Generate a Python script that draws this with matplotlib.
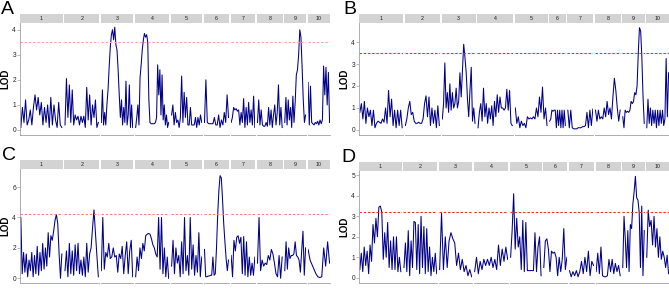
import matplotlib.pyplot as plt
import numpy as np

plt.rcParams['font.family'] = ['Liberation Sans', 'DejaVu Sans']

# chromosome labels for the facet strips
chroms = [str(i) for i in range(1, 11)]

# chromosome lengths (map units) per panel
chr_len_a = [128, 104, 98, 103, 94, 75, 74, 77, 65, 67]
chr_len_b = [132, 106, 102, 107, 99, 49, 78, 77, 67, 68]
chr_len_c = [128, 104, 98, 103, 94, 75, 74, 77, 65, 67]
chr_len_d = [128, 102, 100, 103, 95, 72, 75, 75, 67, 68]

# LOD profiles, one list per chromosome
lod_a = [
    [0.1, 0.9, 0.3, 1.2, 0.2, 0.4, 0.8, 0.2, 0.9, 1.4, 0.8, 1.3, 0.6, 1.1, 0.2, 0.9, 0.3, 1.0, 0.1, 1.3, 0.2, 1.0, 0.4, 0.1, 1.1, 0.2, 0.1],
    [0.2, 2.05, 0.5, 1.8, 0.3, 1.6, 0.2, 0.6, 0.4, 0.55, 0.2, 0.55, 0.3, 0.55, 0.1, 1.7, 0.4, 1.4, 0.2, 1.0, 0.5, 1.2, 0.1, 0.3],
    [0.3, 1.6, 0.2, 0.7, 0.2, 1.0, 1.6, 2.5, 3.3, 3.8, 4.0, 3.6, 4.1, 3.4, 3.2, 2.4, 1.4, 0.5, 1.2, 0.2, 0.9, 0.3, 1.95, 0.2, 0.6, 1.8, 0.1, 1.0, 0.1],
    [0.1, 0.5, 1.0, 0.2, 2.1, 2.6, 3.2, 3.6, 3.85, 3.7, 3.8, 3.5, 1.2, 0.3, 0.25, 0.25, 0.25, 0.25, 0.3, 0.5, 2.6, 1.4, 2.4, 0.6, 2.2, 0.4, 1.0, 0.2, 0.6, 0.1, 0.3],
    [0.6, 1.0, 0.2, 0.7, 0.3, 0.4, 0.1, 0.5, 2.15, 0.3, 1.5, 0.5, 1.3, 0.2, 0.2, 0.9, 0.2, 0.2, 0.2, 0.5, 0.1, 0.5, 0.2, 0.6, 0.3],
    [0.3, 2.0, 0.3, 0.25, 0.25, 0.25, 0.25, 0.5, 0.2, 0.2, 0.6, 0.1, 0.4, 0.2, 0.7, 0.3, 1.4, 0.5],
    [0.3, 0.5, 0.9, 0.8, 0.85, 0.75, 0.8, 0.2, 0.7, 0.3, 1.25, 0.1, 0.9, 0.2, 1.1, 0.3, 0.8, 0.2, 1.35, 0.1],
    [0.3, 1.2, 0.2, 0.8, 0.2, 0.15, 0.15, 0.3, 0.15, 0.9, 0.2, 0.8, 0.1, 0.6, 1.0, 0.2, 0.7, 1.8, 0.2, 0.9, 0.1],
    [0.3, 1.3, 0.2, 1.2, 0.4, 0.9, 0.1, 1.35, 0.3, 1.1, 2.2, 2.4, 3.0, 4.0, 3.7, 2.5, 1.2, 0.3, 0.6],
    [1.9, 0.2, 1.75, 0.3, 0.25, 0.2, 0.3, 0.25, 0.35, 0.2, 0.4, 0.25, 0.4, 2.55, 1.4, 2.5, 1.0, 2.3, 0.3],
]
lod_b = [
    [0.8, 1.2, 0.5, 1.3, 0.3, 1.0, 0.6, 0.9, 0.2, 0.9, 0.1, 0.3, 0.4, 0.35, 0.3, 0.5, 0.35, 1.0, 0.3, 1.8, 0.6, 1.4, 0.2, 0.9, 0.1, 0.9, 0.2, 0.9, 0.1],
    [0.2, 0.5, 1.0, 1.3, 0.7, 0.8, 0.4, 0.3, 0.3, 0.35, 0.3, 0.3, 0.5, 1.2, 1.55, 0.6, 1.5, 0.2, 1.0, 0.3, 0.9, 0.1, 1.1, 0.2],
    [0.5, 1.2, 3.05, 1.0, 1.7, 0.8, 2.1, 0.9, 1.7, 1.0, 1.2, 1.9, 1.0, 1.3, 2.6, 1.5, 2.7, 3.9, 3.3, 2.6, 1.4, 0.6, 1.8, 2.85, 0.4, 1.0, 0.3],
    [0.1, 0.8, 1.2, 0.4, 1.9, 0.6, 1.2, 0.3, 1.0, 0.5, 1.1, 0.2, 1.3, 0.6, 1.6, 0.8, 1.5, 1.0, 1.0, 0.9, 1.0, 1.85, 0.9, 1.8, 0.3, 0.2],
    [1.0, 0.3, 0.6, 0.1, 0.4, 0.2, 0.3, 0.1, 0.6, 0.5, 0.55, 0.5, 0.6, 0.5, 1.0, 0.6, 1.5, 0.8, 1.95, 0.5, 1.0, 0.2],
    [0.4, 0.5, 0.9, 0.85, 0.9, 0.9, 0.1, 0.9, 0.2, 0.9, 0.1, 0.9, 0.1, 0.9, 0.2],
    [0.9, 0.1, 0.9, 0.1, 0.05, 0.05, 0.05, 0.1, 0.1, 0.1, 0.15, 0.15, 0.2, 0.8, 0.1, 0.9, 0.2, 0.95],
    [0.9, 0.4, 0.9, 0.5, 0.6, 0.5, 1.0, 0.6, 1.3, 0.7, 1.0, 0.5, 1.5, 2.35, 1.8, 1.0, 0.4, 0.9],
    [0.6, 0.1, 0.9, 0.8, 0.85, 0.8, 0.9, 1.3, 1.2, 1.3, 1.7, 1.6, 2.0, 3.5, 4.65, 4.5, 3.3, 1.5, 0.3],
    [0.1, 1.4, 0.3, 1.0, 0.2, 0.9, 0.3, 0.9, 0.1, 0.9, 0.2, 0.9, 0.3, 0.9, 0.2, 0.5, 3.25, 0.6, 2.6],
]
lod_c = [
    [4.0, 0.3, 1.7, 0.4, 1.6, 0.1, 1.2, 0.5, 1.7, 0.1, 1.5, 0.3, 2.1, 0.2, 1.7, 0.5, 2.3, 0.6, 2.0, 0.8, 3.0, 1.4, 2.8, 2.5, 3.1, 3.8, 4.2, 3.6, 1.6, 0.0, 1.6],
    [0.5, 1.8, 0.1, 2.3, 0.3, 1.8, 0.2, 2.2, 0.5, 2.3, 0.3, 1.2, 0.2, 1.4, 0.1, 2.3, 0.4, 1.6, 2.0, 3.3, 4.5, 3.0, 1.5, 0.1],
    [0.5, 4.0, 0.6, 1.7, 1.4, 2.3, 1.3, 1.4, 2.0, 1.4, 1.5, 0.4, 1.6, 1.3, 2.1, 0.3, 1.5, 2.4, 0.3, 1.8, 2.5, 0.1],
    [0.1, 1.4, 0.5, 2.0, 1.3, 2.3, 1.8, 2.8, 2.9, 2.95, 2.9, 2.6, 2.2, 2.0, 1.6, 1.4, 4.0, 0.6, 4.0, 0.3, 2.0, 0.1, 1.4, 0.0],
    [0.8, 2.5, 0.3, 2.0, 1.0, 1.5, 0.1, 2.4, 0.3, 4.0, 0.5, 1.5, 0.2, 4.0, 0.6, 2.2, 0.2, 1.5, 0.4, 3.0, 0.1, 1.4],
    [1.9, 0.1, 0.1, 0.15, 0.15, 0.2, 0.2, 1.4, 0.2, 0.3, 2.0, 4.2, 5.8, 6.75, 6.6, 5.2, 3.6, 2.4, 1.3, 0.5, 1.2],
    [1.5, 0.1, 2.5, 1.8, 2.7, 2.8, 2.3, 2.7, 0.3, 2.75, 0.2, 2.4, 0.1, 1.4, 0.2, 1.0, 0.2, 1.4],
    [1.0, 4.0, 0.5, 1.2, 0.8, 1.0, 0.9, 1.5, 1.2, 1.9, 1.6, 1.0, 0.3, 0.1, 1.5, 0.0, 1.4],
    [0.5, 2.4, 0.6, 2.0, 1.3, 1.5, 1.5, 1.6, 2.4, 1.5, 1.4, 1.2, 0.4, 1.8, 3.1, 0.2, 2.0],
    [1.9, 1.2, 0.9, 0.6, 0.3, 0.1, 0.05, 0.1, 2.0, 0.8, 2.4, 1.0],
]
lod_d = [
    [0.4, 1.2, 0.3, 1.5, 0.6, 1.3, 0.2, 1.6, 0.8, 2.6, 1.7, 2.9, 2.0, 3.45, 3.5, 3.2, 0.9, 2.2, 1.0, 2.7, 0.5, 1.8, 0.4, 2.0, 0.4, 2.0, 0.3, 1.0, 0.3],
    [0.5, 1.7, 0.3, 2.3, 0.1, 1.8, 0.5, 2.75, 2.7, 0.4, 2.6, 0.2, 3.0, 0.5, 2.5, 0.2, 2.4, 0.3, 1.5, 0.1, 1.0, 0.3, 1.2, 0.2],
    [0.4, 3.15, 0.4, 2.0, 0.5, 1.8, 2.2, 1.9, 1.7, 0.6, 1.2, 0.4, 0.9, 0.3, 0.6, 0.1, 0.4, 0.05],
    [0.3, 1.0, 0.2, 0.8, 0.4, 0.9, 0.6, 0.9, 0.6, 1.0, 0.5, 0.9, 0.4, 1.6, 0.6, 1.4, 0.8, 1.5, 0.9],
    [1.0, 2.3, 4.1, 1.4, 2.9, 1.5, 2.0, 0.4, 2.8, 0.3, 2.7, 0.35, 0.35, 0.35, 0.35, 0.35, 2.2, 0.3, 1.5, 2.0, 0.1],
    [0.5, 1.8, 1.9, 1.4, 0.3, 1.3, 1.2, 1.25, 1.0, 0.1, 1.0, 0.3, 0.9, 2.4, 0.4, 1.0],
    [0.35, 0.05, 0.3, 0.1, 0.35, 0.05, 0.3, 0.8, 0.2, 1.0, 0.3, 1.3, 0.1, 0.8, 0.6],
    [0.3, 1.2, 0.2, 1.5, 0.1, 0.05, 0.05, 0.1, 0.9, 0.3, 0.9, 0.2, 0.7, 0.3, 0.6, 0.1],
    [0.5, 3.0, 1.9, 0.5, 2.3, 0.3, 2.6, 2.4, 3.6, 4.2, 4.95, 3.9, 3.8, 3.2, 0.5, 3.5, 0.1, 2.3],
    [1.0, 3.3, 2.5, 2.8, 1.6, 3.0, 1.5, 2.4, 1.0, 2.0, 0.9, 1.3, 1.0, 0.5, 1.1, 0.2],
]

thresholds = [3.5, 3.5, 4.2, 3.2]
thr_colors = ['#ffa3a3', '#ff2a2a', '#ff8080', '#ff2a2a']

W, H = 669, 292
fig = plt.figure(figsize=(W / 100, H / 100), dpi=100)


def add_px(x, y, w, h):
    return fig.add_axes([x / W, 1 - (y + h) / H, w / W, h / H])


# letter, left, strip top, plot top, plot bottom, lengths, lod, ylim, yticks
panels = [
    ('A', 20, 14, 22.7, 135, chr_len_a, lod_a, (-0.2, 4.28), [0, 1, 2, 3, 4]),
    ('B', 359, 14, 22.7, 135, chr_len_b, lod_b, (-0.23, 4.88), [0, 1, 2, 3, 4]),
    ('C', 20, 160, 169.3, 282.7, chr_len_c, lod_c, (-0.29, 7.17), [0, 2, 4, 6]),
    ('D', 359, 162, 171, 282.7, chr_len_d, lod_d, (-0.24, 5.21), [0, 1, 2, 3, 4, 5]),
]
letter_pos = [(1, 1), (343, 1), (2, 147.5), (341, 148.5)]

for k, (letter, left, s_top, top, bottom, lens, lod, ylim, yticks) in enumerate(panels):
    scale = 310 / (sum(lens) + 9 * 5)
    gap = 5 * scale
    x = left
    for i, (L, vals) in enumerate(zip(lens, lod)):
        w = L * scale
        ax = add_px(x, top, w, bottom - top)
        pos = np.linspace(0, L, len(vals))
        ax.plot(pos, vals, color='#000088', lw=0.75)
        ax.axhline(thresholds[k], color=thr_colors[k], lw=0.8, ls=(0, (2.2, 1.6)))
        ax.set_xlim(-0.02 * L, 1.02 * L)
        ax.set_ylim(ylim)
        for s in ['top', 'right']:
            ax.spines[s].set_visible(False)
        ax.spines['bottom'].set_color('#a0a0a0')
        ax.spines['bottom'].set_linewidth(0.6)
        ax.set_xticks([])
        if i == 0:
            ax.spines['left'].set_color('#a0a0a0')
            ax.spines['left'].set_linewidth(0.6)
            ax.set_yticks(yticks)
            ax.tick_params(axis='y', length=2, width=0.5, color='#a0a0a0',
                           labelsize=4.8, labelcolor='#222222', pad=0.8)
            ax.set_ylabel('LOD', fontsize=7, fontweight='bold', labelpad=1.5)
        else:
            ax.spines['left'].set_visible(False)
            ax.set_yticks([])
        ax.patch.set_alpha(0)
        # facet strip
        st = add_px(x, s_top, w, top - s_top)
        st.set_facecolor('#d3d3d3')
        st.set_xticks([])
        st.set_yticks([])
        for s in st.spines.values():
            s.set_visible(False)
        st.text(0.5, 0.5, chroms[i], ha='center', va='center',
                fontsize=3.8, color='#1a1a1a', transform=st.transAxes)
        x += w + gap
    lx, ly = letter_pos[k]
    fig.text(lx / W, 1 - ly / H, letter, fontsize=14, va='top', ha='left')

fig.savefig('out.png', dpi=100)
